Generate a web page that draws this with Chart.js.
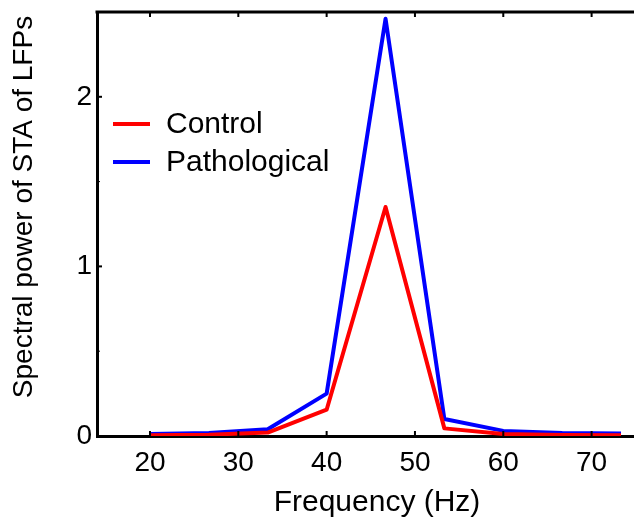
<!DOCTYPE html>
<html>
<head>
<meta charset="utf-8">
<script src="https://cdn.jsdelivr.net/npm/chart.js@4.4.0/dist/chart.umd.min.js"></script>
<style>
  html, body { margin: 0; padding: 0; background: #fff; }
  #wrap { width: 634px; height: 522px; position: relative; }
</style>
</head>
<body>
<div id="wrap"><canvas id="chart-sta-power"></canvas></div>
<script>
// Data
const FREQS = [20, 26.67, 33.33, 40, 46.67, 53.33, 60, 66.67, 73.33];
const CONTROL = [0.005, 0.008, 0.02, 0.155, 1.35, 0.045, 0.012, 0.006, 0.005];
const PATHOLOGICAL = [0.012, 0.018, 0.04, 0.25, 2.46, 0.1, 0.03, 0.018, 0.015];
const SERIES_NAMES = ["Control", "Pathological"];
const X_TICKS = [20, 30, 40, 50, 60, 70];
const Y_TICKS = [0, 0.5, 1, 1.5, 2, 2.5];

const FONT = "'Liberation Sans', Arial, sans-serif";
const TICK_SIZE = 28;
const TEXT_SIZE = 30;

const toPoints = (ys) => FREQS.map((x, i) => ({ x: x, y: ys[i] }));

//---------------------------------------------------------
// Extras: box top line, inward ticks, legend, axis titles
//---------------------------------------------------------
const extras = {
	id: "extras",
	afterDraw(chart) {
		const { ctx, chartArea, scales } = chart;
		const { left, right, top, bottom } = chartArea;
		ctx.save();
		ctx.strokeStyle = "#000";

		// top frame line
		ctx.lineWidth = 3;
		ctx.beginPath();
		ctx.moveTo(left - 1.5, top);
		ctx.lineTo(right, top);
		ctx.stroke();

		// inward ticks on x (top and bottom)
		ctx.lineWidth = 2;
		X_TICKS.forEach((v) => {
			const px = scales.x.getPixelForValue(v);
			ctx.beginPath();
			ctx.moveTo(px, top);
			ctx.lineTo(px, top + 5);
			ctx.moveTo(px, bottom);
			ctx.lineTo(px, bottom - 5);
			ctx.stroke();
		});

		// inward ticks on y
		Y_TICKS.forEach((v) => {
			const py = scales.y.getPixelForValue(v);
			const len = Number.isInteger(v) ? 5 : 3;
			ctx.lineWidth = Number.isInteger(v) ? 2 : 1;
			ctx.beginPath();
			ctx.moveTo(left, py);
			ctx.lineTo(left + len, py);
			ctx.stroke();
		});

		// legend
		ctx.font = `${TEXT_SIZE}px ${FONT}`;
		ctx.fillStyle = "#000";
		ctx.textAlign = "left";
		ctx.textBaseline = "middle";
		chart.data.datasets.forEach((ds, i) => {
			const y = 124 + i * 38;
			ctx.strokeStyle = ds.borderColor;
			ctx.lineWidth = 4;
			ctx.beginPath();
			ctx.moveTo(113, y);
			ctx.lineTo(150, y);
			ctx.stroke();
			ctx.fillText(ds.label, 166, y + 1);
		});

		// axis titles
		ctx.textAlign = "center";
		ctx.fillText("Frequency (Hz)", 377, 503);
		ctx.font = `${TICK_SIZE}px ${FONT}`;
		ctx.translate(24, 207);
		ctx.rotate(-Math.PI / 2);
		ctx.fillText("Spectral power of STA of LFPs", 0, 0);
		ctx.restore();
	},
};

const lineStyle = (color) => ({
	borderColor: color,
	backgroundColor: color,
	borderWidth: 4,
	pointRadius: 0,
	tension: 0,
	fill: false,
	borderJoinStyle: "round",
});

const CHART_DATA = {
	datasets: [
		{ label: SERIES_NAMES[0], data: toPoints(CONTROL), ...lineStyle("#ff0000") },
		{ label: SERIES_NAMES[1], data: toPoints(PATHOLOGICAL), ...lineStyle("#0000ff") },
	],
};

const CHART_CONFIG = {
	type: "line",
	data: CHART_DATA,
	options: {
		responsive: true,
		maintainAspectRatio: false,
		animation: false,
		layout: { padding: { top: 12, right: 0, left: 0, bottom: 0 } },
		scales: {
			x: {
				type: "linear",
				min: 14,
				max: 74.8,
				afterFit: (scale) => {
					scale.height = 86;
					scale.paddingLeft = 0;
					scale.paddingRight = 0;
				},
				border: { display: true, color: "#000", width: 3 },
				grid: { display: false, drawTicks: false },
				ticks: {
					stepSize: 10,
					includeBounds: false,
					padding: 10,
					color: "#000",
					font: { family: FONT, size: TICK_SIZE },
					maxRotation: 0,
				},
			},
			y: {
				min: 0,
				max: 2.5,
				afterFit: (scale) => {
					scale.width = 97;
					scale.paddingTop = 0;
					scale.paddingBottom = 0;
				},
				border: { display: true, color: "#000", width: 3 },
				grid: { display: false, drawTicks: false },
				ticks: {
					stepSize: 1,
					includeBounds: false,
					padding: 5,
					color: "#000",
					font: { family: FONT, size: TICK_SIZE },
				},
			},
		},
		plugins: {
			legend: { display: false },
			tooltip: { enabled: false },
		},
	},
	plugins: [extras],
};

new Chart(document.getElementById("chart-sta-power"), CHART_CONFIG);
</script>
</body>
</html>
